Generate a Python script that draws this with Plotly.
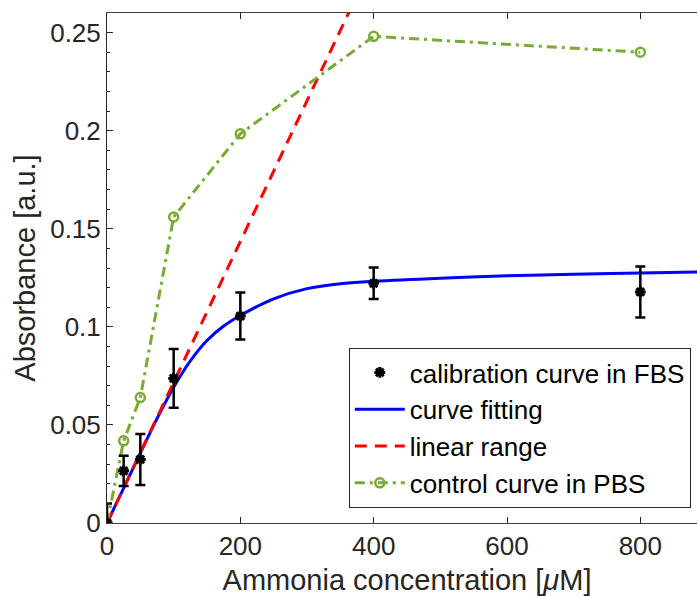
import plotly.graph_objects as go

# Calibration curve in FBS (mean and error)
cal_x = [0, 25, 50, 100, 200, 400, 800]
cal_y = [0.0, 0.0266, 0.0324, 0.0737, 0.1055, 0.1222, 0.1178]
cal_err = [0.010, 0.0077, 0.013, 0.015, 0.012, 0.008, 0.013]

# Curve fitting
fit_x = [0, 25, 50, 75, 100, 125, 150, 175, 200, 250, 300, 350, 400, 500, 600, 700, 800, 900]
fit_y = [0.0, 0.0178, 0.0356, 0.0532, 0.0692, 0.0826, 0.0930, 0.1004, 0.1058, 0.1143,
         0.1195, 0.1220, 0.1232, 0.1248, 0.1260, 0.1268, 0.1274, 0.1281]

# Linear range
lin_x = [0, 400]
lin_y = [0.0, 0.287]

# Control curve in PBS
pbs_x = [0, 25, 50, 100, 200, 400, 800]
pbs_y = [0.0, 0.0419, 0.064, 0.156, 0.1984, 0.2481, 0.240]

x_ticks = [0, 200, 400, 600, 800]
y_ticks = [0, 0.05, 0.1, 0.15, 0.2, 0.25]
y_tick_text = ["0", "0.05", "0.1", "0.15", "0.2", "0.25"]

FONT = "Liberation Sans, Arial, Helvetica, sans-serif"
GREEN = "#77AC30"

fig = go.Figure()

fig.add_trace(go.Scatter(
    x=fit_x, y=fit_y, mode="lines", name="curve fitting",
    line=dict(color="#0000FF", width=3, shape="spline", smoothing=1.0),
    legendrank=2,
))
fig.add_trace(go.Scatter(
    x=lin_x, y=lin_y, mode="lines", name="linear range",
    line=dict(color="#FF0000", width=3, dash="12px,8px"),
    legendrank=3,
))
fig.add_trace(go.Scatter(
    x=pbs_x, y=pbs_y, mode="lines+markers", name="control curve in PBS",
    line=dict(color=GREEN, width=3, dash="10px,5px,3px,5px"),
    marker=dict(symbol="circle-open", size=9, color=GREEN, line=dict(width=2.5, color=GREEN)),
    legendrank=4,
))
fig.add_trace(go.Scatter(
    x=cal_x, y=cal_y, mode="markers", name="calibration curve in FBS",
    marker=dict(symbol="asterisk-open", size=9, color="black", line=dict(width=3, color="black")),
    error_y=dict(type="data", array=cal_err, visible=True, color="black", thickness=2.5, width=5),
    legendrank=1,
))

fig.update_layout(
    width=707, height=596,
    margin=dict(l=107, r=0, t=13, b=73, autoexpand=False),
    paper_bgcolor="white", plot_bgcolor="white",
    font=dict(family=FONT, size=26, color="#262626"),
    showlegend=True,
    legend=dict(
        x=0.403, y=0.343, xanchor="left", yanchor="top",
        bgcolor="white", bordercolor="#262626", borderwidth=1,
        font=dict(family=FONT, size=26, color="black"),
        itemwidth=50,
        traceorder="normal",
    ),
    xaxis=dict(
        range=[0, 900], tickvals=x_ticks, ticks="inside", ticklen=6, tickwidth=1,
        tickcolor="#262626", showline=True, linecolor="#404040", linewidth=1,
        mirror="ticks", showgrid=False, zeroline=False, automargin=False,
        title=dict(text="Ammonia concentration [<i>μ</i>M]", font=dict(size=29)),
        tickfont=dict(size=26),
    ),
    yaxis=dict(
        range=[0, 0.26], tickvals=y_ticks, ticktext=y_tick_text, ticks="inside", ticklen=6,
        tickwidth=1, tickcolor="#262626", showline=True, linecolor="#262626", linewidth=1,
        mirror="ticks", showgrid=False, zeroline=False, automargin=True,
        minor=dict(dtick=0.01, ticks="inside", ticklen=3, tickcolor="#262626"),
        title=dict(text="Absorbance [a.u.]", font=dict(size=29), standoff=6),
        tickfont=dict(size=26),
    ),
)

fig.write_html(
    "out.html",
    config={"displayModeBar": False},
    post_script="document.body.style.margin='0';document.body.style.overflow='hidden';",
)
